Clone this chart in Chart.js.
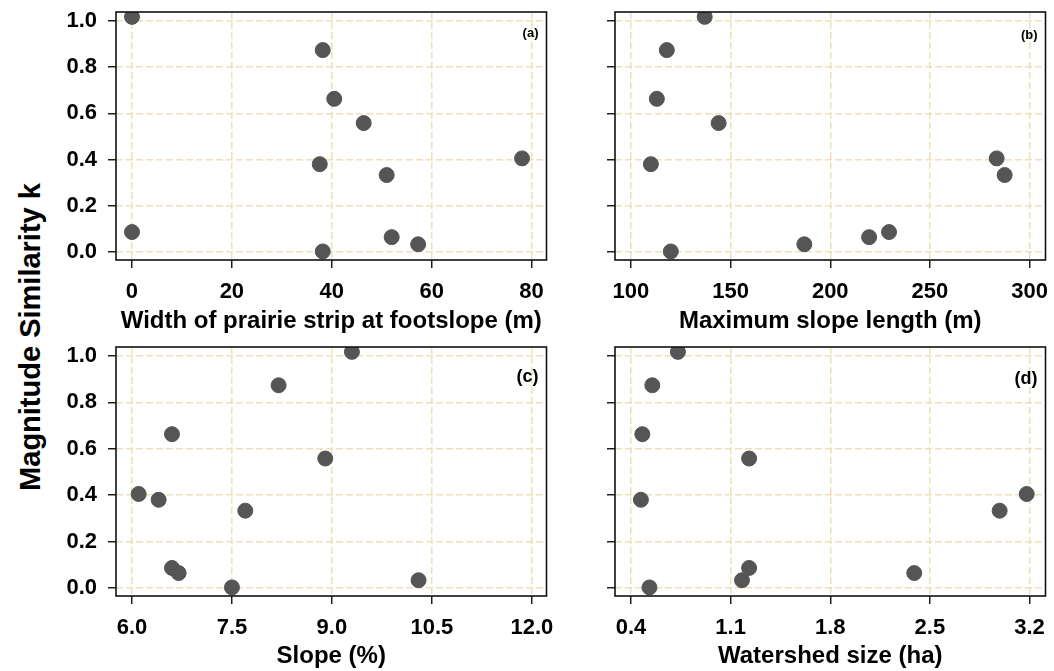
<!DOCTYPE html>
<html lang="en">
<head>
  <meta charset="UTF-8" />
  <title>Magnitude Similarity k</title>
  <script src="https://cdn.jsdelivr.net/npm/chart.js"></script>
  <style>
    body {
      margin: 0;
      background: #fff;
      font-family: 'Liberation Sans', Arial, sans-serif;
    }
    #wrap {
      position: relative;
      width: 1054px;
      height: 671px;
    }
    .panel {
      position: absolute;
    }
    #ytitle {
      position: absolute;
      left: 30px;
      top: 337px;
      transform: translate(-50%, -50%) rotate(-90deg);
      font-weight: bold;
      font-size: 29px;
      white-space: nowrap;
      color: #000;
    }
  </style>
</head>
<body>
  <div id="wrap">
    <div class="panel" style="left:50px;top:0;width:505px;height:336px"><canvas id="chartA"></canvas></div>
    <div class="panel" style="left:555px;top:0;width:499px;height:336px"><canvas id="chartB"></canvas></div>
    <div class="panel" style="left:50px;top:330px;width:505px;height:341px"><canvas id="chartC"></canvas></div>
    <div class="panel" style="left:555px;top:330px;width:499px;height:341px"><canvas id="chartD"></canvas></div>
    <div id="ytitle">Magnitude Similarity k</div>
  </div>

  <script>
    // magnitude similarity k, one value per site (shared by all panels)
    const simK = [1.018, 0.874, 0.663, 0.558, 0.405, 0.380, 0.333, 0.086, 0.064, 0.033, 0.002];

    // predictors, same site order
    const stripWidth = [0, 38.2, 40.5, 46.4, 78.1, 37.6, 51.0, 0, 52.0, 57.3, 38.2];
    const slopeLength = [137, 118, 113, 144, 283.5, 110, 287.5, 229.5, 219.5, 187, 120];
    const slopePct = [9.3, 8.2, 6.6, 8.9, 6.1, 6.4, 7.7, 6.6, 6.7, 10.3, 7.5];
    const watershed = [0.73, 0.55, 0.48, 1.23, 3.18, 0.47, 2.99, 1.23, 2.39, 1.18, 0.53];

    // tick labels
    const yTicks = [0, 0.2, 0.4, 0.6, 0.8, 1.0];
    const ticksA = [0, 20, 40, 60, 80];
    const ticksB = [100, 150, 200, 250, 300];
    const ticksC = [6.0, 7.5, 9.0, 10.5, 12.0];
    const ticksD = [0.4, 1.1, 1.8, 2.5, 3.2];

    const gridColor = '#ece1b9';
    const pointColor = '#555555';
    const fontFam = '"Liberation Sans", Arial, sans-serif';

    // draws full box round the plot area + panel letter
    const boxPlugin = {
      id: 'boxPlugin',
      afterDraw(chart, args, opts) {
        const { ctx, chartArea } = chart;
        ctx.save();
        ctx.strokeStyle = '#111';
        ctx.lineWidth = 1.6;
        ctx.strokeRect(chartArea.left, chartArea.top, chartArea.right - chartArea.left, chartArea.bottom - chartArea.top);
        ctx.fillStyle = '#000';
        ctx.font = 'bold ' + opts.size + 'px ' + fontFam;
        ctx.textAlign = 'right';
        ctx.textBaseline = 'middle';
        ctx.fillText(opts.text, chartArea.right - 8, chartArea.top + opts.dy);
        ctx.restore();
      }
    };

    function makePanel(id, xs, xTicks, xMin, xMax, decimals, title, showY, leftW, padTop, bottomH, padRight, tag, tagSize, tagDy) {
      new Chart(document.getElementById(id), {
        type: 'scatter',
        data: {
          datasets: [{
            data: xs.map((x, i) => ({ x: x, y: simK[i] })),
            backgroundColor: pointColor,
            borderColor: pointColor,
            pointRadius: 7.5,
            pointHoverRadius: 7.5
          }]
        },
        options: {
          responsive: true,
          maintainAspectRatio: false,
          animation: false,
          layout: { padding: { top: padTop, right: padRight, left: 0, bottom: 0 } },
          plugins: {
            legend: { display: false },
            tooltip: { enabled: false },
            boxPlugin: { text: tag, size: tagSize, dy: tagDy }
          },
          scales: {
            x: {
              type: 'linear',
              min: xMin,
              max: xMax,
              afterBuildTicks: s => { s.ticks = xTicks.map(v => ({ value: v })); },
              afterFit: s => { s.height = bottomH; s.paddingLeft = 0; s.paddingRight = 0; },
              grid: { color: gridColor, lineWidth: 1.5, tickColor: '#111', tickLength: 8, tickWidth: 1.4 },
              border: { display: false, dash: [7, 3] },
              ticks: {
                color: '#000',
                padding: 11,
                font: { family: fontFam, size: 22, weight: 'bold' },
                callback: v => decimals ? v.toFixed(1) : String(v)
              },
              title: {
                display: true,
                text: title,
                color: '#000',
                padding: { top: 0, bottom: 0 },
                font: { family: fontFam, size: 24, weight: 'bold' }
              }
            },
            y: {
              type: 'linear',
              min: -0.035,
              max: 1.039,
              afterBuildTicks: s => { s.ticks = yTicks.map(v => ({ value: v })); },
              afterFit: s => { s.width = leftW; s.paddingTop = 0; s.paddingBottom = 0; },
              grid: { color: gridColor, lineWidth: 1.5, tickColor: '#111', tickLength: 8, tickWidth: 1.4 },
              border: { display: false, dash: [7, 3] },
              ticks: {
                color: '#000',
                padding: 11,
                font: { family: fontFam, size: 22, weight: 'bold' },
                callback: v => showY ? v.toFixed(1) : ''
              }
            }
          }
        },
        plugins: [boxPlugin]
      });
    }

    makePanel('chartA', stripWidth, ticksA, -3.2, 83, false, 'Width of prairie strip at footslope (m)', true, 66, 12, 76, 8, '(a)', 13, 21);
    makePanel('chartB', slopeLength, ticksB, 92, 308, false, 'Maximum slope length (m)', false, 60, 12, 76, 7, '(b)', 13, 23);
    makePanel('chartC', slopePct, ticksC, 5.76, 12.22, true, 'Slope (%)', true, 66, 17, 75, 8, '(c)', 18, 30);
    makePanel('chartD', watershed, ticksD, 0.288, 3.312, true, 'Watershed size (ha)', false, 60, 17, 75, 7, '(d)', 18, 32);
  </script>
</body>
</html>
